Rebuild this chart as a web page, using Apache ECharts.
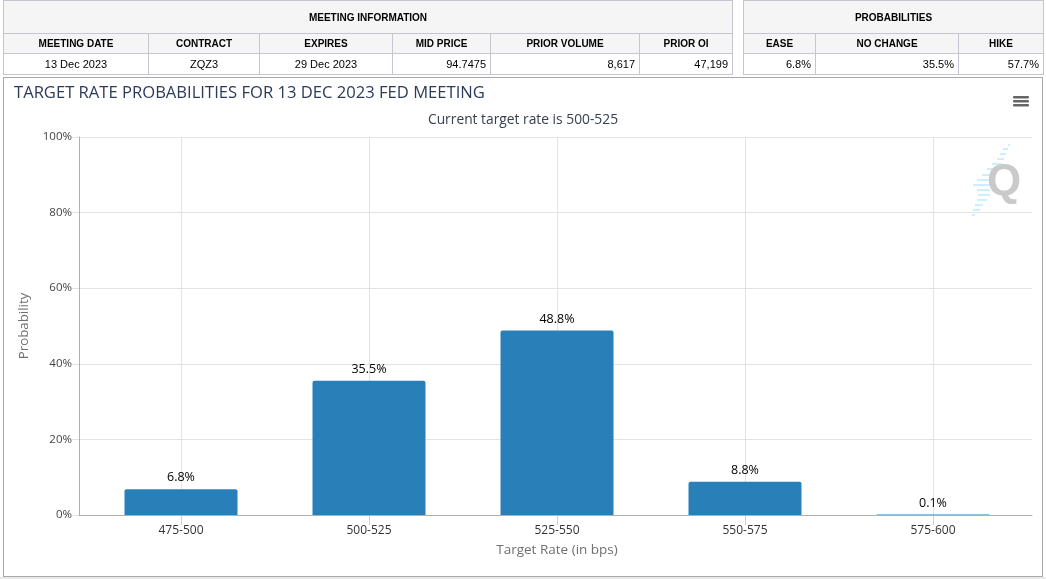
<!DOCTYPE html>
<html>
<head>
<meta charset="utf-8">
<script src="https://cdn.jsdelivr.net/npm/echarts@6/dist/echarts.min.js"></script>
<style>
  html, body { margin:0; padding:0; background:#ffffff; width:1046px; height:579px; overflow:hidden; }
  #bottomStrip { position:absolute; left:0; top:577px; width:1046px; height:2px; background:#e9e9e9; }
  #panel { position:absolute; left:3px; top:77px; width:1038px; height:498px; border:1px solid #a8a8a8; }
  #chart { position:absolute; left:0; top:0; width:1046px; height:579px; }
  table.info { position:absolute; top:0; border-collapse:collapse; font-family:"Liberation Sans", Arial, sans-serif; table-layout:fixed; }
  table.info td { border:1px solid #c6c6d0; padding:0 4px; color:#000; box-sizing:border-box; white-space:nowrap; }
  table.info tr.r1 td { height:33px; background:#f5f5f5; font-weight:bold; font-size:10px; text-align:center; }
  table.info tr.r2 td { height:20px; background:#f5f5f5; font-weight:bold; font-size:10px; text-align:center; }
  table.info tr.r3 td { height:21px; background:#fff; font-size:11px; }
  td.c { text-align:center; }
  td.r { text-align:right; }
</style>
</head>
<body>
<div id="bottomStrip"></div>
<div id="panel"></div>
<div id="chart"></div>
<table class="info" id="t1" style="left:3px; width:729px;">
  <colgroup><col style="width:145px"><col style="width:111px"><col style="width:133px"><col style="width:98px"><col style="width:149px"><col style="width:93px"></colgroup>
  <tr class="r1"><td colspan="6" id="t1head"></td></tr>
  <tr class="r2" id="t1cols"></tr>
  <tr class="r3" id="t1vals"></tr>
</table>
<table class="info" id="t2" style="left:743px; width:300px;">
  <colgroup><col style="width:72px"><col style="width:143px"><col style="width:85px"></colgroup>
  <tr class="r1"><td colspan="3" id="t2head"></td></tr>
  <tr class="r2" id="t2cols"></tr>
  <tr class="r3" id="t2vals"></tr>
</table>
<script>
// ---- data ----
const meetingHeader = "MEETING INFORMATION";
const meetingColumns = ["MEETING DATE", "CONTRACT", "EXPIRES", "MID PRICE", "PRIOR VOLUME", "PRIOR OI"];
const meetingValues = ["13 Dec 2023", "ZQZ3", "29 Dec 2023", "94.7475", "8,617", "47,199"];
const meetingAlign = ["c", "c", "c", "r", "r", "r"];
const probHeader = "PROBABILITIES";
const probColumns = ["EASE", "NO CHANGE", "HIKE"];
const probValues = ["6.8%", "35.5%", "57.7%"];

const chartTitle = "TARGET RATE PROBABILITIES FOR 13 DEC 2023 FED MEETING";
const chartSubtitle = "Current target rate is 500-525";
const categories = ["475-500", "500-525", "525-550", "550-575", "575-600"];
const probabilities = [6.8, 35.5, 48.8, 8.8, 0.1];
const yTicks = [0, 20, 40, 60, 80, 100];
const yAxisTitle = "Probability";
const xAxisTitle = "Target Rate (in bps)";

// ---- tables ----
function fillRow(id, arr, cls) {
  const tr = document.getElementById(id);
  arr.forEach((t, i) => {
    const td = document.createElement('td');
    td.textContent = t;
    if (cls) td.className = cls[i];
    tr.appendChild(td);
  });
}
document.getElementById('t1head').textContent = meetingHeader;
document.getElementById('t2head').textContent = probHeader;
fillRow('t1cols', meetingColumns);
fillRow('t1vals', meetingValues, meetingAlign);
fillRow('t2cols', probColumns);
fillRow('t2vals', probValues, ["r", "r", "r"]);

// watermark streak decoration (pixel layout of the logo, not data)
const streaks = [
  [1008,145,1010],[1003,149,1008],[1000,154,1006],[997,159,1004],[992,164,1002],
  [987,169,995],[982,175,992],[977,180,990],[973,185,990],[977,190,990],
  [978,195,990],[977,200,987],[975,205,983],[973,210,980],[972,215,975]
];

// ---- chart ----
const FONT = '"Open Sans", "DejaVu Sans", sans-serif';
const chart = echarts.init(document.getElementById('chart'), null, {renderer: 'canvas'});
const graphics = [
  { type: 'rect', left: 1013, top: 96, shape: { width: 16, height: 2.5, r: 1 }, style: { fill: '#666' } },
  { type: 'rect', left: 1013, top: 100, shape: { width: 16, height: 2.5, r: 1 }, style: { fill: '#666' } },
  { type: 'rect', left: 1013, top: 104, shape: { width: 16, height: 2.5, r: 1 }, style: { fill: '#666' } },
  { type: 'text', left: 987, top: 161, style: { text: 'Q', font: 'bold 44px "Liberation Sans", Arial, sans-serif', fill: '#cacaca' } }
];
streaks.forEach(s => graphics.push({
  type: 'line', silent: true, z: -1,
  shape: { x1: s[0], y1: s[1], x2: s[2], y2: s[1] },
  style: { stroke: '#cdeffb', lineWidth: 2 }
}));

chart.setOption({
  backgroundColor: 'transparent',
  animation: false,
  title: [
    { text: chartTitle, left: 9, top: 80,
      textStyle: { fontFamily: FONT, fontSize: 16.6, fontWeight: 'normal', color: '#2b3b58' } },
    { text: chartSubtitle, left: 'center', top: 108,
      textStyle: { fontFamily: FONT, fontSize: 13.8, fontWeight: 'normal', color: '#36404f' } }
  ],
  grid: [
    { left: 79, right: 14, top: 137, bottom: 64, containLabel: false },
    { left: 87, right: 19, top: 137, bottom: 64, containLabel: false }
  ],
  xAxis: [
    { // frame axis: only the bottom line across the full plot
      type: 'category', gridIndex: 0, data: categories,
      axisLine: { show: true, lineStyle: { color: '#b0b0b0', width: 1 } },
      axisTick: { show: false }, axisLabel: { show: false }, splitLine: { show: false }, z: 5
    },
    {
      type: 'category', gridIndex: 1,
      data: categories,
      name: xAxisTitle,
      nameLocation: 'middle',
      nameGap: 28,
      nameTextStyle: { fontFamily: FONT, fontSize: 13.5, color: '#707070' },
      axisLine: { show: false },
      axisTick: { show: true, alignWithLabel: true, length: 10, lineStyle: { color: '#d0d0d0' } },
      axisLabel: { fontFamily: FONT, fontSize: 12, color: '#333', margin: 10 },
      splitLine: { show: true, alignWithLabel: true, lineStyle: { color: '#e3e3e3', width: 1 } }
    }
  ],
  yAxis: [
    {
      type: 'value', gridIndex: 0,
      min: 0, max: 100, interval: 20,
      name: yAxisTitle,
      nameLocation: 'middle',
      nameGap: 48,
      nameTextStyle: { fontFamily: FONT, fontSize: 13.3, color: '#707070' },
      axisLine: { show: true, lineStyle: { color: '#b0b0b0', width: 1 } },
      axisTick: { show: true, length: 7, lineStyle: { color: '#e3e3e3' } },
      axisLabel: { fontFamily: FONT, fontSize: 11.5, color: '#444', margin: 7,
        formatter: v => yTicks.includes(v) ? v + '%' : '' },
      splitLine: { show: true, lineStyle: { color: '#e3e3e3', width: 1 } }
    },
    {
      type: 'value', gridIndex: 1, min: 0, max: 100, interval: 20,
      axisLine: { show: false }, axisTick: { show: false }, axisLabel: { show: false }, splitLine: { show: false }
    }
  ],
  series: [{
    type: 'bar',
    xAxisIndex: 1, yAxisIndex: 1,
    data: probabilities,
    barWidth: 113,
    itemStyle: { color: '#2980b9', borderRadius: [2, 2, 0, 0] },
    label: { show: true, position: 'top', distance: 5,
      fontFamily: FONT, fontSize: 12.5, color: '#000',
      formatter: p => p.value.toFixed(1) + '%' }
  }],
  graphic: graphics
});
</script>
</body>
</html>
